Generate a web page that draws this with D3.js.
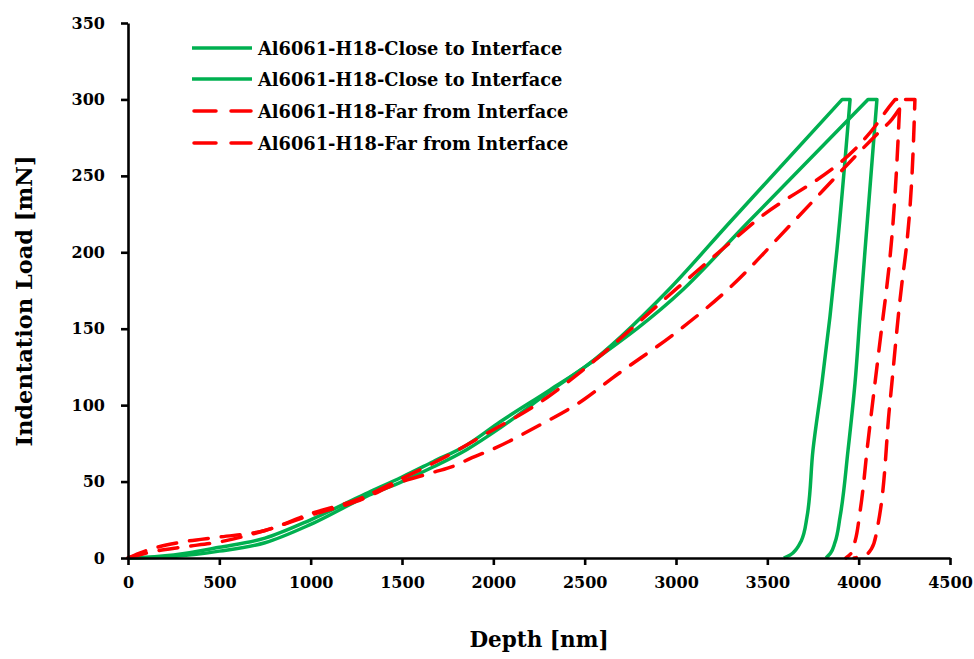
<!DOCTYPE html>
<html>
<head>
<meta charset="utf-8">
<script src="https://cdn.jsdelivr.net/npm/d3@7"></script>
<style>
  body { margin: 0; background: #fff; }
  svg { display: block; }
  text { font-family: "Palatino Linotype", "Book Antiqua", Palatino, "DejaVu Serif", serif; font-weight: bold; fill: #000; }
</style>
</head>
<body>
<div id="chart"></div>
<script>
// depth [nm], load [mN]; loading branch then unloading branch
var close1Loading = [[0,0],[250,2],[500,7],[750,13],[1000,25],[1300,42],[1500,53],[1670,63],[1856,74],[2036,89],
  [2310,110],[2513,126],[2956,175],[3290,219],[3910,300]];
var close1Unloading = [[3953,300],[3881,201.5],[3843,158],[3799,114.5],[3750,70.7],[3717,26.8],[3685,11],
  [3660,6],[3625,2],[3590,0]];
var close2Loading = [[0,0],[250,1],[500,4.5],[750,10],[1000,22],[1300,40],[1500,50],[1670,59.5],[1856,71],[2036,85],
  [2310,109],[2513,126],[3033,175],[3389,219],[4051,300]];
var close2Unloading = [[4100,300],[4035,201.5],[4007,158],[3980,114.5],[3942,70.7],[3898,26.8],[3870,10],
  [3845,3],[3821,0]];
var far1Loading = [[0,0],[60,3],[130,6],[300,10.5],[500,13.7],[750,18],[1000,29],[1250,38],[1500,52],[1750,67],
  [1927,79],[2294,105],[2491,123],[3011,177],[3421,219],[4106,285],[4160,294],[4200,300]];
var far1Unloading = [[4226,300],[4171,196],[4110,135],[4050,75],[4007,30],[3978,10],[3958,3],[3930,0]];
var far2Loading = [[0,0],[60,2],[130,4],[300,7.2],[500,10.5],[750,18],[1000,28],[1250,37],[1500,50],[1670,56],
  [1801,61],[1872,65],[1993,71],[2239,86],[2500,104],[2655,118],[3005,148],[3296,177],[3635,219],
  [4106,278],[4182,287],[4255,300]];
var far2Unloading = [[4308,300],[4259,201],[4237,180],[4170,100],[4100,18.3],[4070,6],[4030,1.5],[3975,0]];

var seriesNames = ["Al6061-H18-Close to Interface", "Al6061-H18-Close to Interface",
  "Al6061-H18-Far from Interface", "Al6061-H18-Far from Interface"];
var seriesLoading = [close1Loading, close2Loading, far1Loading, far2Loading];
var seriesUnloading = [close1Unloading, close2Unloading, far1Unloading, far2Unloading];
var seriesColors = ["#00b050", "#00b050", "#ff0000", "#ff0000"];
var seriesDashed = [false, false, true, true];

var xTicks = [0, 500, 1000, 1500, 2000, 2500, 3000, 3500, 4000, 4500];
var yTicks = [0, 50, 100, 150, 200, 250, 300, 350];

var width = 974, height = 659;
var svg = d3.select("#chart").append("svg")
  .attr("width", width)
  .attr("height", height);

var xScale = d3.scaleLinear().domain([0, 4500]).range([128, 950]);
var yScale = d3.scaleLinear().domain([0, 350]).range([558, 23]);

// loading is smooth along x, unloading is smooth along y
var loadLine = d3.line()
  .x(d => xScale(d[0]))
  .y(d => yScale(d[1]))
  .curve(d3.curveMonotoneX);
var unloadLine = d3.line()
  .x(d => xScale(d[0]))
  .y(d => yScale(d[1]))
  .curve(d3.curveMonotoneY);

svg.selectAll("path.curve")
  .data(seriesLoading)
  .enter().append("path")
  .attr("class", "curve")
  .attr("d", (d, i) => loadLine(d) + unloadLine(seriesUnloading[i]).replace(/^M/, "L"))
  .attr("fill", "none")
  .attr("stroke", (d, i) => seriesColors[i])
  .attr("stroke-width", 3.5)
  .attr("stroke-linecap", (d, i) => seriesDashed[i] ? "round" : "butt")
  .attr("stroke-linejoin", "round")
  .attr("stroke-dasharray", (d, i) => seriesDashed[i] ? "19,13" : null);

// axes
var xAxis = svg.append("g")
  .attr("transform", "translate(0," + yScale(0) + ")")
  .call(d3.axisBottom(xScale).tickValues(xTicks).tickFormat(d3.format("d"))
    .tickSize(7).tickSizeOuter(0).tickPadding(12));
var yAxis = svg.append("g")
  .attr("transform", "translate(" + xScale(0) + ",0)")
  .call(d3.axisLeft(yScale).tickValues(yTicks).tickFormat(d3.format("d"))
    .tickSize(7).tickSizeOuter(0).tickPadding(16));

[xAxis, yAxis].forEach(function(ax) {
  ax.select(".domain").attr("stroke", "#000").attr("stroke-width", 2.6);
  ax.selectAll(".tick line").attr("stroke", "#000").attr("stroke-width", 2.6);
  ax.selectAll(".tick text")
    .attr("font-family", null)
    .attr("font-size", null)
    .style("font-size", "16px")
    .attr("fill", "#000");
});

svg.append("text")
  .attr("x", 539)
  .attr("y", 647)
  .attr("text-anchor", "middle")
  .style("font-size", "21.5px")
  .text("Depth [nm]");

svg.append("text")
  .attr("transform", "translate(32,301) rotate(-90)")
  .attr("text-anchor", "middle")
  .style("font-size", "22.5px")
  .text("Indentation Load [mN]");

// legend
var legendY = [48, 79, 111, 143];
var legend = svg.selectAll("g.legend")
  .data(seriesNames)
  .enter().append("g")
  .attr("class", "legend")
  .attr("transform", (d, i) => "translate(0," + legendY[i] + ")");

legend.append("line")
  .attr("x1", (d, i) => seriesDashed[i] ? 194 : 192)
  .attr("x2", (d, i) => seriesDashed[i] ? 251 : 252)
  .attr("stroke", (d, i) => seriesColors[i])
  .attr("stroke-width", 3.5)
  .attr("stroke-linecap", (d, i) => seriesDashed[i] ? "round" : "butt")
  .attr("stroke-dasharray", (d, i) => seriesDashed[i] ? "22,15" : null);

legend.append("text")
  .attr("x", 258)
  .attr("y", 6.5)
  .style("font-size", "17.8px")
  .text(d => d);
</script>
</body>
</html>
